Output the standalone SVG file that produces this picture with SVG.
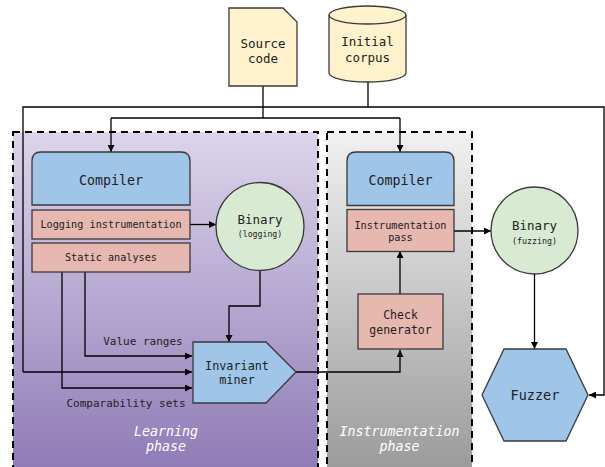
<svg xmlns="http://www.w3.org/2000/svg" width="605" height="467" viewBox="0 0 605 467">
<defs>
<linearGradient id="gLearn" x1="0" y1="0" x2="0" y2="1">
<stop offset="0" stop-color="#ddd5eb"/>
<stop offset="1" stop-color="#8d79b5"/>
</linearGradient>
<linearGradient id="gInst" x1="0" y1="0" x2="0" y2="1">
<stop offset="0" stop-color="#f1f1f1"/>
<stop offset="1" stop-color="#999999"/>
</linearGradient>
<marker id="arr" viewBox="0 0 10 10" refX="10" refY="5" markerWidth="9" markerHeight="7" markerUnits="userSpaceOnUse" orient="auto">
<path d="M0,0 L10,5 L0,10 z" fill="#000"/>
</marker>
</defs>
<style>
text{font-family:"DejaVu Sans Mono","Liberation Mono",monospace;fill:#222;text-anchor:middle;dominant-baseline:central}
.shape{stroke:#3a3a3a;stroke-width:1.3}
.blue{fill:#9fc5e8}
.pink{fill:#e6b8af}
.green{fill:#d9ead3}
.yellow{fill:#fff2cc}
.conn{fill:none;stroke:#000;stroke-width:1.3}
.phase{fill:none;stroke:#000;stroke-width:2;stroke-dasharray:7,5}
.plabel{font-style:italic;fill:#fff;font-size:13.3px}
</style>

<g id="learning-phase">
<rect x="13" y="132" width="305" height="345" fill="url(#gLearn)"/>
<rect x="13" y="132" width="305" height="345" class="phase"/>
<text class="plabel" x="166" y="431">Learning</text>
<text class="plabel" x="166" y="446">phase</text>
</g>

<g id="instrumentation-phase">
<rect x="327" y="132" width="145" height="345" fill="url(#gInst)"/>
<rect x="327" y="132" width="145" height="345" class="phase"/>
<text class="plabel" x="399.5" y="431">Instrumentation</text>
<text class="plabel" x="399.5" y="446">phase</text>
</g>

<g id="connectors">
<path class="conn" d="M263,86 V118"/>
<path class="conn" d="M368,82 V107"/>
<path class="conn" d="M23,372 V107 H604 V395 H589" marker-end="url(#arr)"/>
<path class="conn" d="M23,372 H192" marker-end="url(#arr)"/>
<path class="conn" d="M111,118 H400"/>
<path class="conn" d="M111,118 V152" marker-end="url(#arr)"/>
<path class="conn" d="M400,118 V152" marker-end="url(#arr)"/>
<path class="conn" d="M190,224.5 H216" marker-end="url(#arr)"/>
<path class="conn" d="M260,270 V306 H229 V342" marker-end="url(#arr)"/>
<path class="conn" d="M85,272 V356 H192" marker-end="url(#arr)"/>
<path class="conn" d="M62,272 V388 H192" marker-end="url(#arr)"/>
<path class="conn" d="M296,372 H400 V350" marker-end="url(#arr)"/>
<path class="conn" d="M400,294 V251" marker-end="url(#arr)"/>
<path class="conn" d="M454,231 H491" marker-end="url(#arr)"/>
<path class="conn" d="M534.5,274 V349" marker-end="url(#arr)"/>
<text x="143" y="341" font-size="11">Value ranges</text>
<text x="126" y="403.5" font-size="11">Comparability sets</text>
</g>

<g id="source-code">
<path class="shape yellow" d="M229,8 H283 L297,22 V86 H229 Z"/>
<text x="263" y="43" font-size="12.5">Source</text>
<text x="263" y="58.5" font-size="12.5">code</text>
</g>

<g id="initial-corpus">
<path class="shape yellow" d="M329,15 A38.5,9 0 0 1 406,15 V73 A38.5,9 0 0 1 329,73 Z"/>
<path class="shape" fill="none" d="M329,15 A38.5,9 0 0 0 406,15"/>
<text x="367.5" y="41.5" font-size="12.5">Initial</text>
<text x="367.5" y="57" font-size="12.5">corpus</text>
</g>

<g id="compiler-1">
<path class="shape blue" d="M32,205 V161 Q32,152 41,152 H181 Q190,152 190,161 V205 Z"/>
<text x="111" y="180.5" font-size="13.3">Compiler</text>
</g>

<g id="logging-instrumentation">
<rect class="shape pink" x="32" y="210" width="158" height="29"/>
<text x="111" y="224.5" font-size="10.2">Logging instrumentation</text>
</g>

<g id="static-analyses">
<rect class="shape pink" x="32" y="243" width="158" height="29"/>
<text x="111" y="257.5" font-size="10.2">Static analyses</text>
</g>

<g id="binary-logging">
<circle class="shape green" cx="260" cy="226.5" r="44"/>
<text x="260" y="219" font-size="12.5">Binary</text>
<text x="260" y="233.5" font-size="8.2">(logging)</text>
</g>

<g id="invariant-miner">
<path class="shape blue" d="M193,342 H266 L296,372 L266,403 H193 Z"/>
<text x="237" y="366" font-size="11.8">Invariant</text>
<text x="237" y="380" font-size="11.8">miner</text>
</g>

<g id="compiler-2">
<path class="shape blue" d="M347,205.5 V161 Q347,152 356,152 H445 Q454,152 454,161 V205.5 Z"/>
<text x="400.5" y="180.5" font-size="13.3">Compiler</text>
</g>

<g id="instrumentation-pass">
<rect class="shape pink" x="347" y="209.5" width="107" height="42"/>
<text x="400.5" y="225.5" font-size="10.2">Instrumentation</text>
<text x="400.5" y="237.5" font-size="10.2">pass</text>
</g>

<g id="check-generator">
<rect class="shape pink" x="358" y="294" width="85" height="55"/>
<text x="400.5" y="315" font-size="11.5">Check</text>
<text x="400.5" y="329.5" font-size="11.5">generator</text>
</g>

<g id="binary-fuzzing">
<circle class="shape green" cx="534.5" cy="230.5" r="43.5"/>
<text x="534.5" y="225" font-size="12.5">Binary</text>
<text x="534.5" y="241" font-size="8.3">(fuzzing)</text>
</g>

<g id="fuzzer">
<path class="shape blue" d="M504,349 H566 L588,395 L566,441 H504 L482,395 Z"/>
<text x="535" y="395" font-size="13.5">Fuzzer</text>
</g>
</svg>
